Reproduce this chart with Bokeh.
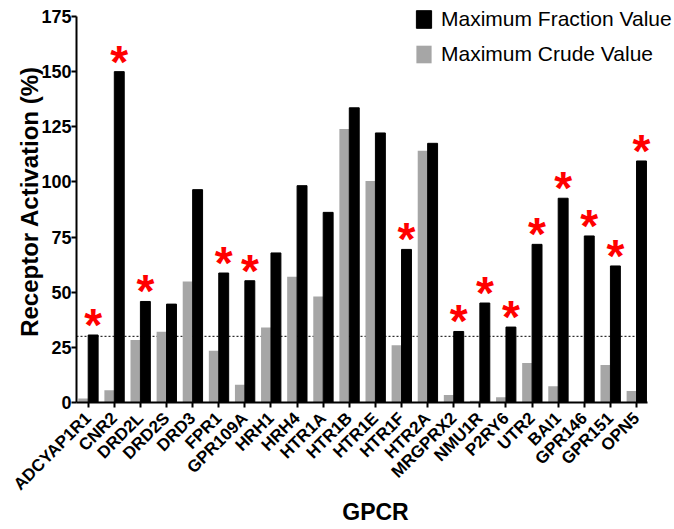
import math
from bokeh.plotting import figure
from bokeh.models import ColumnDataSource, Range1d, FixedTicker, Legend, LegendItem
from bokeh.transform import dodge
from bokeh.core.properties import value
from bokeh.embed import file_html
from bokeh.resources import INLINE

receptors = ["ADCYAP1R1", "CNR2", "DRD2L", "DRD2S", "DRD3", "FPR1", "GPR109A",
             "HRH1", "HRH4", "HTR1A", "HTR1B", "HTR1E", "HTR1F", "HTR2A",
             "MRGPRX2", "NMU1R", "P2RY6", "UTR2", "BAI1", "GPR146", "GPR151", "OPN5"]
fraction_values = [30.6, 150.0, 45.8, 44.6, 96.5, 58.7, 55.2, 67.8, 98.3, 86.2,
                   133.6, 122.2, 69.4, 117.5, 32.2, 45.1, 34.2, 71.7, 92.6, 75.5, 61.9, 109.5]
crude_values = [1.8, 5.6, 28.3, 32.1, 54.8, 23.5, 8.0, 34.0, 57.0, 48.0,
                124.0, 100.4, 26.0, 114.1, 3.4, 0.8, 2.4, 17.9, 7.4, 0.0, 17.0, 5.2]
significant = ["ADCYAP1R1", "CNR2", "DRD2L", "FPR1", "GPR109A", "HTR1F", "MRGPRX2",
               "NMU1R", "P2RY6", "UTR2", "BAI1", "GPR146", "GPR151", "OPN5"]
threshold = 30
y_ticks = [0, 25, 50, 75, 100, 125, 150, 175]
y_axis_max = 175

FONT = "Liberation Sans"
GRAY = "#a6a6a6"

# axis extents (data units) and the extra room kept for the legend
X_START, X_AXIS_END, X_END = -0.448, 21.42, 22.454
Y_END = 182.25

idx = list(range(len(receptors)))
src = ColumnDataSource(dict(idx=idx, name=receptors, frac=fraction_values, crude=crude_values))
sig_idx = [i for i, n in enumerate(receptors) if n in significant]
star_src = ColumnDataSource(dict(idx=sig_idx, frac=[fraction_values[i] for i in sig_idx]))

p = figure(frame_width=598, frame_height=402,
           x_range=Range1d(X_START, X_END), y_range=Range1d(0, Y_END),
           output_backend="svg", toolbar_location=None,
           min_border_left=76, min_border_right=0, min_border_top=0, min_border_bottom=0)
p.outline_line_color = None
p.xgrid.visible = False
p.ygrid.visible = False

p.segment(x0=[X_START], y0=[threshold], x1=[X_AXIS_END], y1=[threshold],
          line_color="black", line_width=1, line_dash="2 2")

r_crude = p.vbar(x=dodge("idx", -0.19, range=p.x_range), top="crude", width=0.38,
                 source=src, fill_color=GRAY, line_color=None)
r_frac = p.vbar(x=dodge("idx", 0.19, range=p.x_range), top="frac", width=0.38,
                source=src, fill_color="black", line_color="black")

p.text(x=dodge("idx", 0.19, range=p.x_range), y="frac", text=value("*"), source=star_src,
       text_font=value(FONT), text_font_style="bold", text_font_size="46px",
       text_color="red", text_align="center", text_baseline="alphabetic", y_offset=-10)

legend = Legend(items=[LegendItem(label="Maximum Fraction Value", renderers=[r_frac]),
                       LegendItem(label="Maximum Crude Value", renderers=[r_crude])],
                location=(338, 336), border_line_color=None, background_fill_alpha=0,
                padding=0, margin=0, spacing=11, glyph_width=19, glyph_height=22,
                label_height=22, label_standoff=8, label_text_font=FONT,
                label_text_font_size="21px", label_text_color="black")
p.add_layout(legend)

for ax in (p.xaxis[0], p.yaxis[0]):
    ax.axis_line_width = 2
    ax.axis_line_color = "black"
    ax.major_tick_line_width = 2
    ax.major_tick_line_color = "black"
    ax.major_tick_out = 5
    ax.major_tick_in = 0
    ax.minor_tick_line_color = None
    ax.major_label_text_font = FONT
    ax.major_label_text_font_style = "bold"
    ax.major_label_text_color = "black"
    ax.axis_label_text_font = FONT
    ax.axis_label_text_font_style = "bold"
    ax.axis_label_text_color = "black"

p.xaxis.bounds = (X_START, X_AXIS_END)
p.xaxis.ticker = FixedTicker(ticks=idx)
p.xaxis.major_label_overrides = {i: n for i, n in enumerate(receptors)}
p.xaxis.major_label_orientation = math.pi / 4
p.xaxis.major_label_text_font_size = "17px"
p.xaxis.major_label_standoff = 8
p.xaxis.axis_label = "GPCR"
p.xaxis.axis_label_text_font_size = "23px"
p.xaxis.axis_label_standoff = -5

p.yaxis.bounds = (0, y_axis_max)
p.yaxis.ticker = FixedTicker(ticks=y_ticks)
p.yaxis.major_label_text_font_size = "18px"
p.yaxis.major_label_standoff = 0
p.yaxis.axis_label = "Receptor Activation (%)"
p.yaxis.axis_label_text_font_size = "24px"
p.yaxis.axis_label_standoff = -5

open("out.html", "w").write(file_html(p, INLINE))
